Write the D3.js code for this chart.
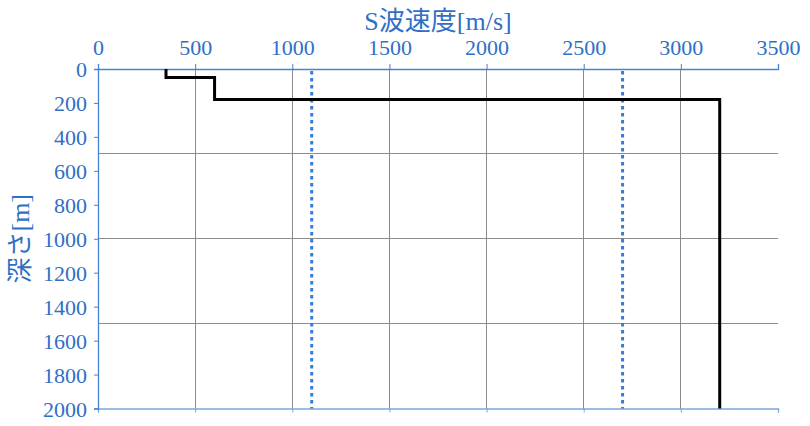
<!DOCTYPE html>
<html><head><meta charset="utf-8">
<script src="https://cdn.jsdelivr.net/npm/d3@7"></script>
<style>
body{margin:0;background:#fff;}
</style></head>
<body><svg id="c" width="810" height="426"></svg>
<script>
// Data
const stepDepth = [0, 50, 50, 180, 180, 2000];
const stepVel   = [350, 350, 600, 600, 3200, 3200];
const refVelocities = [1100, 2700];
const xTicks = [0, 500, 1000, 1500, 2000, 2500, 3000, 3500];
const yTicks = [0, 200, 400, 600, 800, 1000, 1200, 1400, 1600, 1800, 2000];
const xGrid = [500, 1000, 1500, 2000, 2500, 3000];
const yGrid = [500, 1000, 1500];
const xTitle = "S波速度[m/s]";
const yTitle = "深さ[m]";

(function(){
const svg = d3.select("#c");
const L = 98, R = 778, T = 69, B = 408.5;
const x = d3.scaleLinear().domain([0, 3500]).range([L, R]);
const y = d3.scaleLinear().domain([0, 2000]).range([T, B]);
const labelColor = "#2f70c6", axisColor = "#4a82cc", gridColor = "#8c8c8c";
const serif = "Liberation Serif, Times New Roman, DejaVu Serif, Noto Sans CJK JP, serif";

svg.append("g").selectAll("line").data(xGrid).join("line")
  .attr("x1", d => x(d)).attr("x2", d => x(d)).attr("y1", T).attr("y2", B)
  .attr("stroke", gridColor).attr("stroke-width", 1).attr("shape-rendering","crispEdges");
svg.append("g").selectAll("line").data(yGrid).join("line")
  .attr("x1", L).attr("x2", R).attr("y1", d => y(d)).attr("y2", d => y(d))
  .attr("stroke", gridColor).attr("stroke-width", 1).attr("shape-rendering","crispEdges");

const bottomAx = svg.append("g").attr("transform", `translate(0,${B})`)
  .call(d3.axisBottom(x).tickValues(xTicks).tickSize(4).tickFormat(""));
bottomAx.selectAll("path,line").attr("stroke", "#7ea6dc");

const topAx = svg.append("g").attr("transform", `translate(0,${T})`)
  .call(d3.axisTop(x).tickValues(xTicks).tickSize(5).tickSizeOuter(5).tickPadding(9).tickFormat(d3.format("d")));
topAx.attr("font-family", serif).attr("font-size", 22);
topAx.selectAll("path,line").attr("stroke", axisColor);
topAx.selectAll("text").attr("fill", labelColor);

const leftAx = svg.append("g").attr("transform", `translate(${L},0)`)
  .call(d3.axisLeft(y).tickValues(yTicks).tickSize(4).tickSizeOuter(4).tickPadding(7).tickFormat(d3.format("d")));
leftAx.attr("font-family", serif).attr("font-size", 22);
leftAx.selectAll("path,line").attr("stroke", axisColor);
leftAx.selectAll("text").attr("fill", labelColor).attr("dy", "0.36em");
svg.selectAll(".domain").attr("stroke-width", 1.3);

svg.append("g").selectAll("line").data(refVelocities).join("line")
  .attr("x1", d => x(d)).attr("x2", d => x(d)).attr("y1", T + 2).attr("y2", B)
  .attr("stroke", "#3a7bd5").attr("stroke-width", 3).attr("stroke-dasharray", "3.5,3.5");

const pts = stepVel.map((v, i) => [v, stepDepth[i]]);
svg.append("path").datum(pts)
  .attr("d", d3.line().x(d => x(d[0])).y(d => y(d[1])))
  .attr("fill", "none").attr("stroke", "#000").attr("stroke-width", 3);

svg.append("text").attr("x", (L + R) / 2).attr("y", 30).attr("text-anchor", "middle")
  .attr("font-family", serif).attr("font-size", 26)
  .attr("fill", labelColor).text(xTitle);
svg.append("text").attr("transform", `translate(29,${(T + B) / 2}) rotate(-90)`)
  .attr("font-family", serif).attr("font-size", 26)
  .attr("text-anchor", "middle").attr("fill", labelColor).text(yTitle);
})();
</script></body></html>
